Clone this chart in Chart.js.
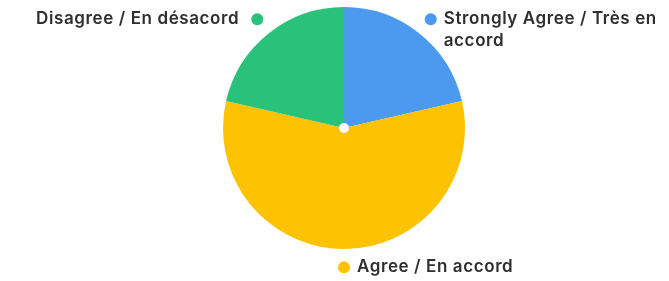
<!DOCTYPE html>
<html>
<head>
<meta charset="utf-8">
<script src="https://cdn.jsdelivr.net/npm/chart.js@4.4.1/dist/chart.umd.min.js"></script>
<style>
  html, body { margin: 0; padding: 0; background: #ffffff; }
  #wrap { width: 669px; height: 281px; position: relative; }
</style>
</head>
<body>
<div id="wrap"><canvas id="c" width="669" height="281"></canvas></div>
<script>
const categories = ["Strongly Agree / Très en accord", "Agree / En accord", "Disagree / En désacord"];
const values = [3, 8, 3];
const colors = ["#4c99f0", "#fec300", "#2ac17b"];

const FONT = '600 17px Inter';

const outsideLabels = {
  id: 'outsideLabels',
  afterDatasetsDraw(chart) {
    const ctx = chart.ctx;
    const meta = chart.getDatasetMeta(0);
    ctx.save();
    meta.data.forEach((arc, i) => {
      const p = arc.getProps(['x', 'y', 'startAngle', 'endAngle', 'outerRadius'], true);
      const mid = (p.startAngle + p.endAngle) / 2;
      const r = p.outerRadius * 1.15;
      const dx = p.x + Math.cos(mid) * r;
      const dy = p.y + Math.sin(mid) * r;
      ctx.beginPath();
      ctx.arc(dx, dy, 6, 0, Math.PI * 2);
      ctx.fillStyle = colors[i];
      ctx.fill();
      ctx.font = FONT;
      ctx.letterSpacing = '0.6px';
      ctx.fillStyle = '#2e2e30';
      ctx.textBaseline = 'middle';
      const left = Math.cos(mid) < -0.01;
      if (left) {
        ctx.textAlign = 'right';
        ctx.fillText(categories[i], dx - 18, dy);
      } else {
        ctx.textAlign = 'left';
        const tx = dx + 13;
        const maxW = chart.width - tx - 6;
        const words = categories[i].split(' ');
        const lines = [];
        let cur = '';
        words.forEach(w => {
          const test = cur ? cur + ' ' + w : w;
          if (ctx.measureText(test).width > maxW && cur) { lines.push(cur); cur = w; }
          else cur = test;
        });
        if (cur) lines.push(cur);
        lines.forEach((ln, k) => ctx.fillText(ln, tx, dy + k * 22));
      }
    });
    const a0 = meta.data[0];
    ctx.beginPath();
    ctx.arc(a0.x, a0.y, 5, 0, Math.PI * 2);
    ctx.fillStyle = '#ffffff';
    ctx.fill();
    ctx.restore();
  }
};

new Chart(document.getElementById('c'), {
  type: 'pie',
  data: {
    labels: categories,
    datasets: [{
      data: values,
      backgroundColor: colors,
      borderWidth: 0,
      hoverOffset: 0
    }]
  },
  options: {
    responsive: false,
    animation: false,
    layout: { padding: { left: 19, right: 0, top: 7, bottom: 32 } },
    plugins: {
      legend: { display: false },
      tooltip: { enabled: false }
    }
  },
  plugins: [outsideLabels]
});
</script>
</body>
</html>
